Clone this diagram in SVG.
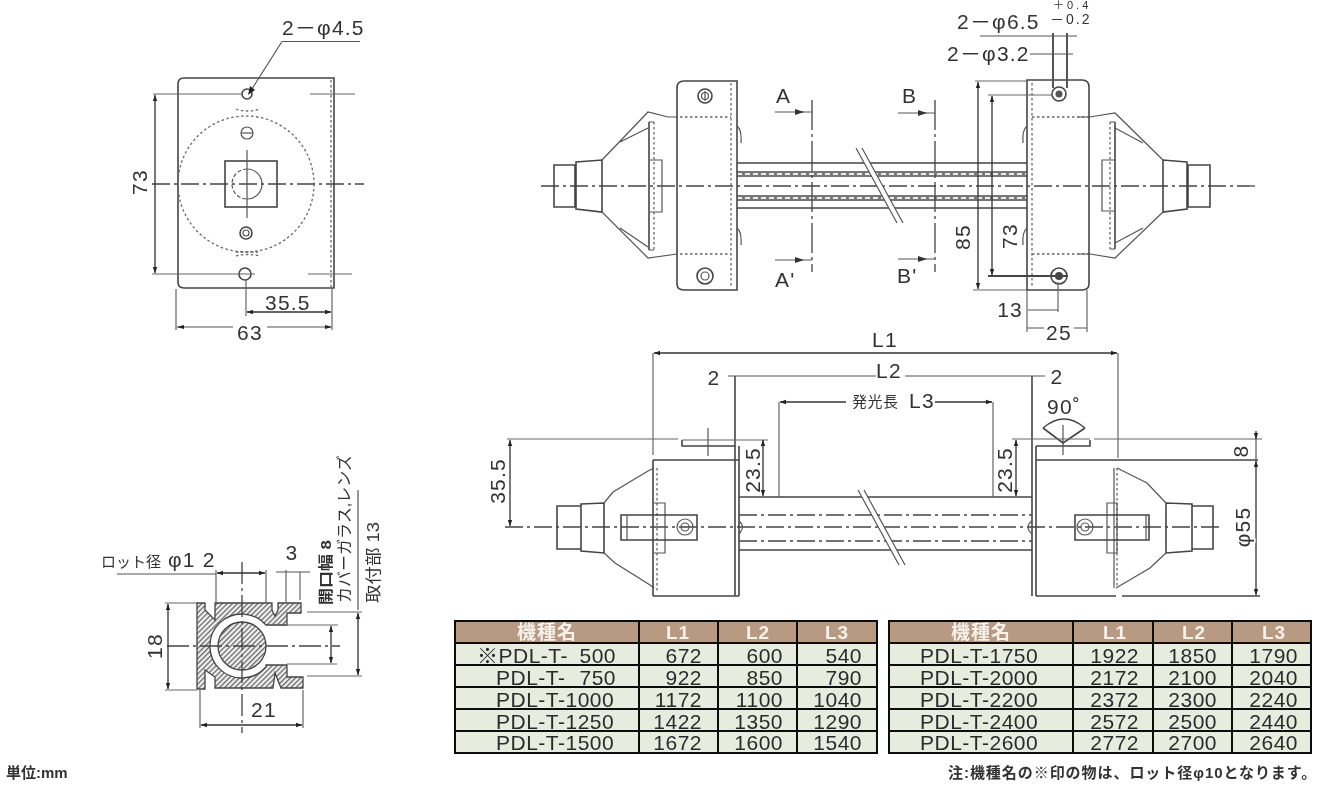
<svg xmlns="http://www.w3.org/2000/svg" width="1330" height="786" viewBox="0 0 1330 786">
<style>
text{font-family:"Liberation Sans","Noto Sans CJK JP",sans-serif;fill:#333}
.d{font-size:21px;letter-spacing:1.2px}
.m{text-anchor:middle}
.e{text-anchor:end}
.o,.t,.c,.k,.h,.dim,.dn{fill:none}
.o{stroke:#444;stroke-width:1.6}
.t{stroke:#555;stroke-width:1.2}
.h{stroke:#666;stroke-width:1.3;stroke-dasharray:2.5 2.5}
.c{stroke:#444;stroke-width:1.3;stroke-dasharray:18 4 3 4}
.k{stroke:#666;stroke-width:1.2}
.dim{stroke:#333;stroke-width:1.3;marker-start:url(#a);marker-end:url(#a)}
.dn{stroke:#333;stroke-width:1.3;marker-end:url(#a)}
.band{fill:#777}
.hb{fill:#b89a82}
.rb{fill:#e8ecdf}
.ln{stroke:#0a0a0a;stroke-width:2;fill:none}
.th{font-size:19px;fill:#f6f1ea;text-anchor:middle;font-weight:bold;letter-spacing:1px}
.td{font-size:21px;letter-spacing:.5px;fill:#2c2c2c}
</style>
<defs>
<marker id="a" viewBox="-6 -3 7 6" markerWidth="7" markerHeight="6" orient="auto-start-reverse" refX="0" refY="0" markerUnits="userSpaceOnUse"><path d="M0 0L-6 -2.200V2.200Z" fill="#222"/></marker>
<pattern id="hatch" width="3.600" height="3.600" patternUnits="userSpaceOnUse" patternTransform="rotate(45)"><rect width="3.600" height="3.600" fill="#f2f2f2"/><rect width="1.300" height="3.600" fill="#666"/></pattern>
<filter id="soft" x="0" y="0" width="100%" height="100%"><feGaussianBlur stdDeviation="0.4"/></filter>
</defs>
<rect width="1330" height="786" fill="#fff"/>
<g filter="url(#soft)">

<g id="front-view">
<path class="o" d="M184 78H334V288H184Q178 288 178 282V84Q178 78 184 78Z"/>
<path class="h" d="M331 80V288"/>
<circle class="h" cx="246" cy="184" r="68"/>
<path class="h" d="M236 109Q247 113 260 109M236 256Q247 253 260 256M236 252H258"/>
<circle class="o" cx="247" cy="94" r="5"/>
<circle class="t" cx="247" cy="133" r="6"/><path class="t" d="M241 133H253"/>
<circle class="o" cx="246" cy="233" r="6"/><circle class="t" cx="246" cy="233" r="3"/>
<circle class="o" cx="245" cy="274" r="6"/>
<rect class="o" x="225" y="161" width="52" height="46"/>
<path class="t" d="M247 169A15 15 0 0 1 247 199"/>
<path class="t" stroke-dasharray="4 2" d="M247 169A15 15 0 0 0 247 199"/>
<path class="c" d="M152 184H364"/>
<path class="t" d="M247 150V218"/>
<path class="k" d="M153 94H241M152 274H255M310 94H355M308 274H352M246 280V316M176 289V330M332 289V330"/>
<path class="t" d="M282 41.500H360M282 41.500L250 92"/>
<path d="M248 95L250 86L255 90Z" fill="#222"/>
<path class="dim" d="M155 95V273"/>
<path class="dim" d="M247 312H331"/>
<path class="t" d="M177 327H233M267 327H331"/>
<path d="M177 327L184 325V329ZM332 327L325 325V329Z" fill="#222"/>
<text class="d" x="282" y="35" letter-spacing="2">2－φ4.5</text>
<text class="d" x="265" y="310">35.5</text>
<text class="d m" x="250" y="340">63</text>
<text class="d m" transform="translate(147,182) rotate(-90)">73</text>
</g>

<g id="top-view">
<path class="c" d="M541 186H1258"/>
<path class="o" d="M737 163H1027M737 208H1027"/>
<rect class="band" x="737" y="171" width="290" height="6"/>
<rect class="band" x="737" y="195" width="290" height="6"/>
<path d="M737 174H1027M737 198H1027" stroke="#eee" stroke-width="1.800" stroke-dasharray="5 3" fill="none"/>
<path d="M859 148L900 223" stroke="#fff" stroke-width="5" fill="none"/>
<path class="t" d="M856 148L897 223M862 148L903 223"/>

<g id="left-clamp">
<path class="o" d="M554 165H575V207H554ZM576 162L602 160V212L576 209Z"/>
<path class="t" d="M602 160L648 112L668 117H677M620 142L648 128M602 212L648 258L677 254M620 228L648 247"/>
<path class="o" d="M649 122V250"/>
<path class="h" d="M654 122V250"/>
<path class="t" d="M649 122H654M649 250H654M650 160H662V212H650"/>
<path class="o" d="M684 81H737V290H684Q677 290 677 284V88Q677 81 684 81Z"/>
<path class="h" d="M731 83V288M680 117H731M680 254H731"/>
<path class="t" d="M737 126Q742 130 741 143M737 228Q742 232 741 245"/>
<circle class="o" cx="705" cy="96" r="7"/><circle class="t" cx="705" cy="96" r="3.500"/><path class="t" d="M705 91V101"/>
<circle class="o" cx="705" cy="276" r="8"/><circle class="t" cx="705" cy="276" r="4"/>
</g>
<g id="right-clamp">
<path class="o" d="M1188 165H1210V207H1188ZM1187 162L1163 160V212L1187 209Z"/>
<path class="t" d="M1163 160L1115 113L1090 117H1078M1143 143L1115 128M1163 212L1115 258L1090 254H1078M1143 228L1115 243"/>
<path class="o" d="M1115 122V249"/>
<path class="h" d="M1110 122V249"/>
<path class="t" d="M1110 122H1115M1110 249H1115M1115 160H1102V211H1115"/>
<path class="o" d="M1027 80H1082Q1089 80 1089 87V284Q1089 290 1082 290H1027Z"/>
<path class="h" d="M1032 83V288M1032 117H1088M1032 254H1088"/>
<path class="t" d="M1027 126Q1022 130 1023 143M1027 228Q1022 232 1023 245"/>
<circle class="o" cx="1059" cy="94" r="7"/><circle cx="1059" cy="94" r="3.500" fill="#555"/>
<circle class="o" cx="1059" cy="276" r="8"/><circle cx="1059" cy="276" r="4" fill="#444"/>
</g>
<path class="c" d="M812 100V272" style="stroke-dasharray:30 4 3 4"/>
<path class="c" d="M935 100V272" style="stroke-dasharray:30 4 3 4"/>
<path class="t" d="M775 112H812M775 260H812M898 113H935M898 259H935"/>
<path d="M795 109L804 112L795 115ZM795 257L804 260L795 263ZM918 110L927 113L918 116ZM918 256L927 259L918 262Z" fill="#333"/>
<text class="d" x="776" y="103">A</text>
<text class="d" x="775" y="287">A'</text>
<text class="d" x="902" y="103">B</text>
<text class="d" x="897" y="283">B'</text>
<path class="k" d="M975 81H1027M973 290H1027M988 95H1053M1027 290V332M1087 290V332M1058 282V312"/>
<path d="M988 276H1068" stroke="#444" stroke-width="2" fill="none"/>
<path class="dim" d="M978 82V289"/>
<path class="dim" d="M992 96V275"/>
<path class="t" d="M1028 310H1058M1027 328H1044M1074 328H1087"/>
<path class="t" d="M980 36H1077M1030 54H1073"/>
<path d="M1053 33V88M1067 33V88" stroke="#555" stroke-width="2" fill="none"/>
<text class="d" x="957" y="29">2－φ6.5</text>
<text class="d" x="947" y="61">2－φ3.2</text>
<text x="1053" y="9" font-size="11" letter-spacing="3" fill="#555">＋0.4</text>
<text x="1050" y="24" font-size="14" letter-spacing="2" fill="#555">－0.2</text>
<text class="d m" transform="translate(970,237) rotate(-90)">85</text>
<text class="d m" transform="translate(1017,236) rotate(-90)">73</text>
<text class="d e" x="1023" y="317">13</text>
<text class="d m" x="1059" y="340">25</text>
</g>

<g id="side-view">
<path class="o" d="M739 497H1032M739 550H1032M653 460H739M1036 460H1258M653 596H739M1036 596H1116M1122 596H1260"/>
<path class="o" d="M735 376V596M739 446V596M1032 376V596M1036 446V596M653 460V596"/>
<path class="c" d="M739 515H1032M739 541H1032"/>
<path class="c" d="M505 527H1220"/>
<path d="M861 490L902 565" stroke="#fff" stroke-width="5" fill="none"/>
<path class="t" d="M858 490L899 565M864 490L905 565"/>
<g id="side-left">
<path class="o" d="M557 506H581V549H557ZM581 504L604 503V553L581 551Z"/>
<path class="t" d="M604 503L613 492L648 471L654 468M604 553L615 563L650 585L654 588"/>
<path class="h" d="M657 468V592"/>
<path class="t" d="M653 503H665V553H653"/>
<path class="o" d="M621 515H697V540H621Z"/>
<path class="t" d="M627 515V540"/>
<circle class="t" cx="685" cy="527" r="8"/><circle class="t" cx="685" cy="527" r="4"/>
<path class="t" d="M739 521Q746 527 739 534"/>
<path class="o" d="M682 440V446H735"/>
<path class="t" d="M708 428V456"/>
</g>
<g id="side-right">
<path class="o" d="M1192 506H1213V549H1192ZM1192 504L1166 503V553L1192 551Z"/>
<path class="t" d="M1166 503L1147 483L1117 468M1166 553L1150 568L1116 588"/>
<path class="t" d="M1114 468V588"/>
<path class="h" d="M1117 468V588"/>
<path class="t" d="M1107 503H1117V553H1107Z"/>
<path class="o" d="M1075 515H1149V540H1075Z"/>
<path class="t" d="M1146 515V540"/>
<circle class="t" cx="1085" cy="527" r="8"/><circle class="t" cx="1085" cy="527" r="4"/>
<path class="t" d="M1032 521Q1024 527 1032 534"/>
<path class="o" d="M1036 446H1090V440"/>
<path class="t" d="M1063 425V455"/>
<path class="o" d="M1043 428L1063 443L1085 428M1043 428Q1064 410 1085 428"/>
</g>
<path class="k" d="M653 353V455M1118 353V458M779 402V497M993 402V497M507 439H678M682 440H768M1012 439H1090M1094 439H1262"/>
<path class="dim" d="M654 353H1117"/>
<path class="t" d="M728 376H876M905 376H1045"/>
<path class="dn" d="M846 402H780"/>
<path class="dn" d="M935 402H992"/>
<path class="dim" d="M510 440V526"/>
<path class="dim" d="M763 440V496"/>
<path class="dim" d="M1016 440V496"/>
<path class="dn" d="M1256 431V439"/>
<path class="dim" d="M1256 461V595"/>
<path class="t" d="M1256 439V461"/>
<text class="d m" x="885" y="347">L1</text>
<text class="d m" x="889" y="378">L2</text>
<text class="d m" x="714" y="385">2</text>
<text class="d m" x="1057" y="384">2</text>
<text x="852" y="407" font-size="15" letter-spacing="0.500">発光長</text>
<text class="d" x="909" y="408">L3</text>
<text class="d" x="1047" y="414">90˚</text>
<text class="d m" transform="translate(505,481) rotate(-90)">35.5</text>
<text class="d m" transform="translate(760,470) rotate(-90)">23.5</text>
<text class="d m" transform="translate(1012,470) rotate(-90)">23.5</text>
<text class="d m" transform="translate(1248,451) rotate(-90)" style="paint-order:stroke;stroke:#fff;stroke-width:3px">8</text>
<text class="d m" transform="translate(1250,527) rotate(-90)" style="paint-order:stroke;stroke:#fff;stroke-width:3px">φ55</text>
</g>

<g id="section-view">
<path fill="url(#hatch)" stroke="#444" stroke-width="1.300" d="M197 603H205V610L215 620V603H272V610L275 616L278 610V603H301V613H287V625H266A32 32 0 1 0 266 667V665H287V677H303V688H281L275 673L273 688H215V677L205 670V689H197Z"/>
<circle cx="242" cy="646" r="24" fill="url(#hatch)" stroke="#444" stroke-width="1.300"/>
<path class="c" d="M167 646H340" style="stroke-dasharray:22 4 3 4"/>
<path class="c" d="M242 562V733" style="stroke-dasharray:22 4 3 4"/>
<path class="k" d="M165 603H197M165 690H197M200 690V728M303 690V728M216 570V603M266 570V603M286 570V603M300 572V600M307 612H362M307 676H362M272 625H338M287 664H337"/>
<path class="dim" d="M168 604V689"/>
<path class="dim" d="M201 725H302"/>
<path class="t" d="M117 574H216M276 572H310"/>
<path class="dim" d="M217 573H265"/>
<path class="dim" d="M331 626V663"/>
<path class="t" d="M358 490V610"/>
<path class="dim" d="M358 613V675"/>
<text x="101" y="567" font-size="15">ロット径</text>
<text class="d" x="168" y="567">φ1 2</text>
<text class="d m" x="292" y="560">3</text>
<text class="d m" x="264" y="717">21</text>
<text class="d m" transform="translate(162,646) rotate(-90)">18</text>
<text font-size="15" font-weight="bold" transform="translate(331,605) rotate(-90)" textLength="65" lengthAdjust="spacingAndGlyphs">開口幅 8</text>
<text font-size="16" transform="translate(350,603) rotate(-90)" textLength="148" lengthAdjust="spacingAndGlyphs">カバーガラス,レンズ</text>
<text font-size="16" transform="translate(379,603) rotate(-90)" textLength="81" lengthAdjust="spacingAndGlyphs">取付部 13</text>
</g>

<g id="table-left">
<rect class="hb" x="455" y="621" width="422" height="22"/>
<rect class="rb" x="455" y="643" width="422" height="110"/>
<path class="ln" d="M455 621H877V753H455ZM455 643H877M455 665H877M455 687H877M455 709H877M455 731H877M639 621V753M718 621V753M797 621V753"/>
<text class="th" x="547" y="639">機種名</text>
<text class="th" x="678" y="639">L1</text>
<text class="th" x="758" y="639">L2</text>
<text class="th" x="837" y="639">L3</text>
<text x="477" y="663" class="td">※PDL-T-</text><text x="616" y="663" class="td e">500</text><text x="702" y="663" class="td e">672</text><text x="783" y="663" class="td e">600</text><text x="862" y="663" class="td e">540</text>
<text x="496" y="685" class="td">PDL-T-</text><text x="616" y="685" class="td e">750</text><text x="702" y="685" class="td e">922</text><text x="783" y="685" class="td e">850</text><text x="862" y="685" class="td e">790</text>
<text x="496" y="707" class="td">PDL-T-1000</text><text x="702" y="707" class="td e">1172</text><text x="783" y="707" class="td e">1100</text><text x="862" y="707" class="td e">1040</text>
<text x="496" y="729" class="td">PDL-T-1250</text><text x="702" y="729" class="td e">1422</text><text x="783" y="729" class="td e">1350</text><text x="862" y="729" class="td e">1290</text>
<text x="496" y="750" class="td">PDL-T-1500</text><text x="702" y="750" class="td e">1672</text><text x="783" y="750" class="td e">1600</text><text x="862" y="750" class="td e">1540</text>
</g>

<g id="table-right">
<rect class="hb" x="889" y="621" width="422" height="22"/>
<rect class="rb" x="889" y="643" width="422" height="110"/>
<path class="ln" d="M889 621H1311V753H889ZM889 643H1311M889 665H1311M889 687H1311M889 709H1311M889 731H1311M1073 621V753M1153 621V753M1232 621V753"/>
<text class="th" x="981" y="639">機種名</text>
<text class="th" x="1115" y="639">L1</text>
<text class="th" x="1194" y="639">L2</text>
<text class="th" x="1274" y="639">L3</text>
<text x="920" y="663" class="td">PDL-T-1750</text><text x="1139" y="663" class="td e">1922</text><text x="1217" y="663" class="td e">1850</text><text x="1298" y="663" class="td e">1790</text>
<text x="920" y="685" class="td">PDL-T-2000</text><text x="1139" y="685" class="td e">2172</text><text x="1217" y="685" class="td e">2100</text><text x="1298" y="685" class="td e">2040</text>
<text x="920" y="707" class="td">PDL-T-2200</text><text x="1139" y="707" class="td e">2372</text><text x="1217" y="707" class="td e">2300</text><text x="1298" y="707" class="td e">2240</text>
<text x="920" y="729" class="td">PDL-T-2400</text><text x="1139" y="729" class="td e">2572</text><text x="1217" y="729" class="td e">2500</text><text x="1298" y="729" class="td e">2440</text>
<text x="920" y="750" class="td">PDL-T-2600</text><text x="1139" y="750" class="td e">2772</text><text x="1217" y="750" class="td e">2700</text><text x="1298" y="750" class="td e">2640</text>
</g>

<text x="6" y="778" font-size="15" font-weight="bold" fill="#222">単位:mm</text>
<text x="948" y="778" font-size="15" font-weight="bold" style="letter-spacing:.95px">注:機種名の※印の物は、ロット径φ10となります。</text>
</g>
</svg>
